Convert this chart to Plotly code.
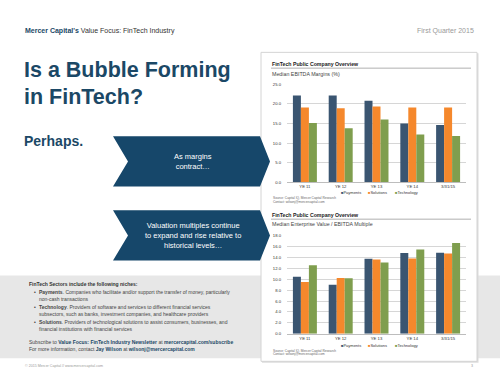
import plotly.graph_objects as go

W, H = 500, 386

categories = ["YE 11", "YE 12", "YE 13", "YE 14", "3/31/15"]
series_names = ["Payments", "Solutions", "Technology"]

ebitda_payments = [22.1, 22.1, 20.8, 15.0, 14.6]
ebitda_solutions = [19.1, 18.9, 19.3, 19.1, 19.1]
ebitda_technology = [15.1, 13.8, 16.0, 12.2, 11.8]

multiple_payments = [10.5, 9.0, 13.8, 14.85, 14.9]
multiple_solutions = [9.5, 10.25, 13.65, 13.85, 14.75]
multiple_technology = [12.6, 10.2, 13.1, 15.5, 16.7]

ebitda_ticks = [0, 5, 10, 15, 20, 25]
multiple_ticks = [0, 2, 4, 6, 8, 10, 12, 14, 16, 18]

colors = ["#3a5571", "#f5882c", "#7f9e4e"]
NAVY = "#1b4866"
CHEV = "#16476a"
FONT = "Liberation Sans"


def px(x):
    return x / W


def py(y):
    return 1 - y / H


fig = go.Figure()

for vals, name, c in zip([ebitda_payments, ebitda_solutions, ebitda_technology], series_names, colors):
    fig.add_trace(go.Bar(x=categories, y=vals, name=name, marker_color=c, marker_line_width=0,
                         xaxis="x", yaxis="y", showlegend=False))
for vals, name, c in zip([multiple_payments, multiple_solutions, multiple_technology], series_names, colors):
    fig.add_trace(go.Bar(x=categories, y=vals, name=name, marker_color=c, marker_line_width=0,
                         xaxis="x2", yaxis="y2", showlegend=False))

shapes = []
# grey band
shapes.append(dict(type="rect", xref="paper", yref="paper", x0=0, x1=1, y0=py(360), y1=py(276),
                   fillcolor="#e7e7e7", line_width=0, layer="below"))
# panel shadow + panel
shapes.append(dict(type="rect", xref="paper", yref="paper", x0=px(262), x1=px(478.5), y0=py(364.5), y1=py(51),
                   fillcolor="#dcdcdc", line_width=0, layer="below"))
shapes.append(dict(type="rect", xref="paper", yref="paper", x0=px(261), x1=px(477), y0=py(363), y1=py(50),
                   fillcolor="white", line=dict(color="#d4d4d4", width=1), layer="below"))


def chevron(top, bottom):
    mid = (top + bottom) / 2
    pts = [(113, top), (260, top), (270, mid), (260, bottom), (113, bottom), (128, mid)]
    path = "M " + " L ".join(f"{px(a):.5f},{py(b):.5f}" for a, b in pts) + " Z"
    return dict(type="path", xref="paper", yref="paper", path=path, fillcolor=CHEV, line_width=0, layer="below")


shapes.append(chevron(135, 186))
shapes.append(chevron(210, 261))
# title underlines in panel
for yy in (66, 219):
    shapes.append(dict(type="line", xref="paper", yref="paper", x0=px(271), x1=px(471), y0=py(yy), y1=py(yy),
                       line=dict(color="#9a9a9a", width=0.8), layer="below"))

ann = []


def text(x, y, t, size, color="#333333", anchor="left", bold=False, yanchor="middle"):
    if bold:
        t = f"<b>{t}</b>"
    ann.append(dict(xref="paper", yref="paper", x=px(x), y=py(y), text=t, showarrow=False,
                    xanchor=anchor, yanchor=yanchor, font=dict(family=FONT, size=size, color=color),
                    borderpad=0))


text(24, 28, f"<b><span style='color:{NAVY}'>Mercer Capital's</span></b> Value Focus: FinTech Industry", 7, "#333333")
text(475, 28, "First Quarter 2015", 7, "#9a9a9a", anchor="right")
text(23, 68, "Is a Bubble Forming", 21.5, NAVY, bold=True)
text(23, 95, "in FinTech?", 21.5, NAVY, bold=True)
text(23, 140, "Perhaps.", 14, NAVY, bold=True)

ann.append(dict(xref="paper", yref="paper", x=px(193), y=py(160.5), showarrow=False,
                text="As margins<br>contract…", align="center", xanchor="center", yanchor="middle",
                font=dict(family=FONT, size=7.5, color="white")))
ann.append(dict(xref="paper", yref="paper", x=px(193), y=py(235.5), showarrow=False,
                text="Valuation multiples continue<br>to expand and rise relative to<br>historical levels…",
                align="center", xanchor="center", yanchor="middle",
                font=dict(family=FONT, size=7.5, color="white")))

# panel titles
text(271, 62, "FinTech Public Company Overview", 5.2, "#222222", bold=True)
text(271, 71.5, "Median EBITDA Margins (%)", 5.3, "#444444")
text(271, 214.5, "FinTech Public Company Overview", 5.2, "#222222", bold=True)
text(271, 223.5, "Median Enterprise Value / EBITDA Multiple", 5.3, "#444444")

# legends
for ly in (191.5, 346.5):
    for lx, name, c in zip((340, 366.5, 394), series_names, colors):
        text(lx, ly, f"<span style='color:{c}'>■</span>{name}", 4, "#333333")

# sources
for sy in (198, 352.5):
    text(272, sy, "Source: Capital IQ, Mercer Capital Research", 3.2, "#666666")
    text(272, sy + 3.3, "Contact: wilsonj@mercercapital.com", 3.2, "#666666")

# bottom text
B = 5
text(28, 285, "FinTech Sectors include the following niches:", B, "#333333", bold=True)
lines = [
    (293, True, "<b>Payments</b>. Companies who facilitate and/or support the transfer of money, particularly"),
    (299.5, False, "non-cash transactions"),
    (308, True, "<b>Technology</b>. Providers of software and services to different financial services"),
    (315, False, "subsectors, such as banks, investment companies, and healthcare providers"),
    (323, True, "<b>Solutions</b>. Providers of technological solutions to assist consumers, businesses, and"),
    (330, False, "financial institutions with financial services"),
]
for ly, bullet, t in lines:
    if bullet:
        text(33, ly, "•", B, "#333333")
    text(38, ly, t, B, "#444444")
text(28, 343, f"Subscribe to <b><span style='color:{NAVY}'>Value Focus: FinTech Industry Newsletter</span></b> at "
              f"<b><span style='color:{NAVY}'>mercercapital.com/subscribe</span></b>", B, "#444444")
text(28, 351, f"For more information, contact <b><span style='color:{NAVY}'>Jay Wilson</span></b> at "
              f"<b><span style='color:{NAVY}'>wilsonj@mercercapital.com</span></b>", B, "#444444")
text(24, 367.5, "© 2015 Mercer Capital // www.mercercapital.com", 3.6, "#9a9a9a")
text(474, 367.5, "3", 3.6, "#9a9a9a", anchor="right")

axis_common = dict(showgrid=True, gridcolor="#d6d6d6", gridwidth=0.6, zeroline=False, ticks="",
                   tickfont=dict(family=FONT, size=4.2, color="#333333"), tickformat=".1f",
                   ticklabelstandoff=5, fixedrange=True)
xaxis_common = dict(type="category", showgrid=False, showline=True, linecolor="#bdbdbd", linewidth=0.8,
                    ticks="", tickfont=dict(family=FONT, size=4.2, color="#333333"), fixedrange=True)

fig.update_layout(
    width=W, height=H, margin=dict(l=0, r=0, t=0, b=0),
    paper_bgcolor="white", plot_bgcolor="rgba(0,0,0,0)",
    barmode="group", bargap=0.33, bargroupgap=0,
    xaxis=dict(domain=[px(287), px(466)], anchor="y", **xaxis_common),
    yaxis=dict(domain=[py(181.7), py(82.3)], anchor="x", range=[0, 25], tickvals=ebitda_ticks, **axis_common),
    xaxis2=dict(domain=[px(287), px(466)], anchor="y2", **xaxis_common),
    yaxis2=dict(domain=[py(335), py(236)], anchor="x2", range=[0, 18], tickvals=multiple_ticks, **axis_common),
    shapes=shapes, annotations=ann, showlegend=False, hovermode=False,
    font=dict(family=FONT),
)

fig.write_html("out.html", config={"displayModeBar": False},
               post_script="document.body.style.margin='0';document.body.style.padding='0';")
